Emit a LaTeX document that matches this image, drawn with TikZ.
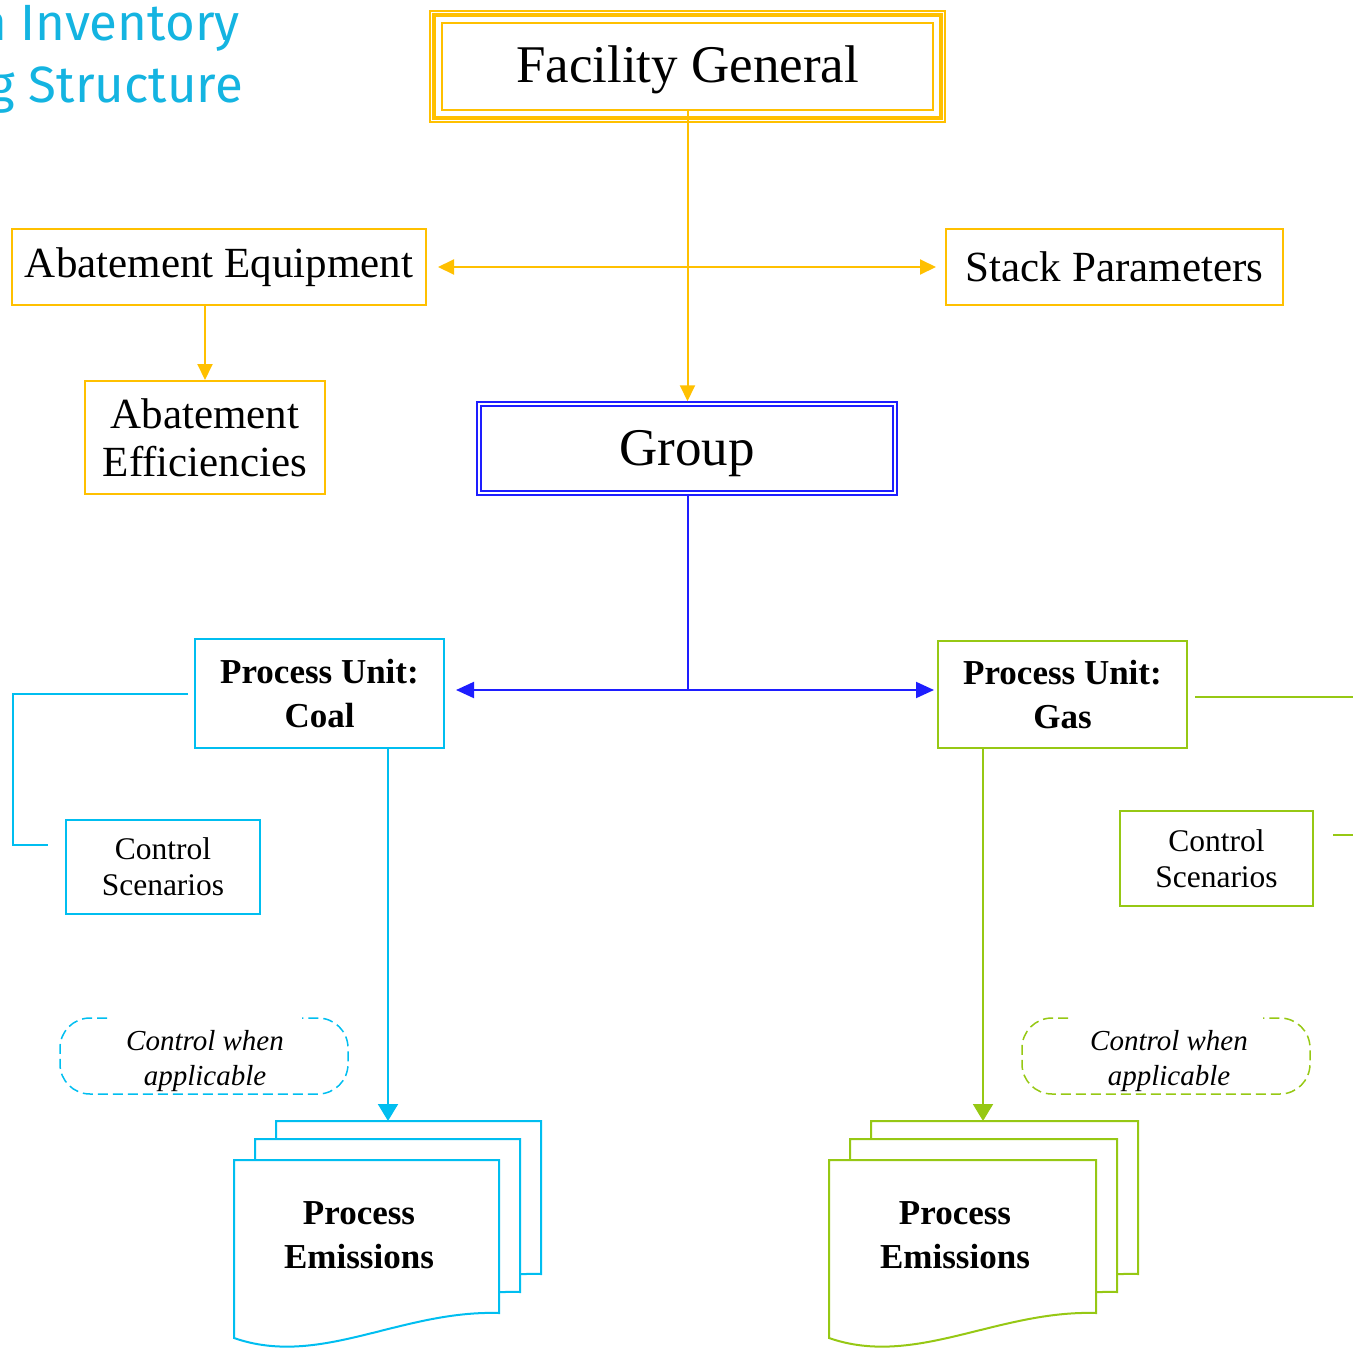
\documentclass[tikz,border=0pt]{standalone}
\usepackage{fontspec}
\setmainfont{Liberation Serif}
\newfontfamily\titlefont{Fira Sans}
\usetikzlibrary{arrows.meta}
\definecolor{gold}{RGB}{255,192,0}
\definecolor{grpblue}{RGB}{30,30,255}
\definecolor{coalcyan}{RGB}{0,190,240}
\definecolor{gasgreen}{RGB}{150,200,20}
\definecolor{titlecyan}{RGB}{20,180,225}
\begin{document}
\begin{tikzpicture}[x=1pt,y=-1pt,
  box/.style={draw=#1, line width=2pt, rectangle, inner sep=0pt, align=center},
  link/.style={draw=#1, line width=2pt},
  tipY/.style={-{Triangle[length=16pt,width=15pt]}},
  tipB/.style={-{Triangle[length=18pt,width=16pt]}},
  tipC/.style={-{Triangle[length=17pt,width=20pt]}},
  docpage/.style={draw=#1, line width=2pt, fill=white},
  notepath/.style={draw=#1, line width=1.5pt, dash pattern=on 10pt off 5pt, rounded corners=30pt},
  bigfont/.style={font=\fontsize{53}{58}\selectfont},
  midfont/.style={font=\fontsize{43}{48}\selectfont},
  unitfont/.style={font=\bfseries\fontsize{35}{44}\selectfont},
  smallfont/.style={font=\fontsize{31.5}{36}\selectfont},
  notefont/.style={font=\itshape\fontsize{29}{35}\selectfont},
]
\useasboundingbox (0,0) rectangle (1353,1349);

% heading, partly cut off at the left edge
\node[anchor=base east, inner sep=0pt, text=titlecyan,
      font=\titlefont\fontsize{51}{51}\selectfont] (head1) at (240,40) {n Inventory};
\node[anchor=base east, inner sep=0pt, text=titlecyan,
      font=\titlefont\fontsize{51}{51}\selectfont] (head2) at (243,102) {g Structure};

% top level: facility (triple gold frame)
\node[box=gold, bigfont, text height=43pt, text depth=12pt,
      minimum width=491pt, minimum height=87pt] (fac) at (687.5,66.5) {Facility General};
\draw[gold, line width=3.5pt] ([shift={(-7,-7)}]fac.north west) rectangle ([shift={(7,7)}]fac.south east);
\draw[gold, line width=1.5pt] ([shift={(-11,-11)}]fac.north west) rectangle ([shift={(11,11)}]fac.south east);

% second row
\node[box=gold, midfont, minimum width=414pt, minimum height=76pt] (abe) at (219,267) {Abatement Equipment};
\node[box=gold, midfont, minimum width=337pt, minimum height=76pt] (stk) at (1114.5,267) {Stack Parameters};
\node[box=gold, midfont, minimum width=240pt, minimum height=113pt] (eff) at (205,437.5) {Abatement\\Efficiencies};

% group (double blue frame)
\node[draw=grpblue, line width=1.5pt, double, double distance=2.5pt, inner sep=0pt,
      bigfont, text height=46pt, text depth=12pt,
      minimum width=416pt, minimum height=89pt] (grp) at (687,448.5) {Group};

% process units
\node[box=coalcyan, unitfont, minimum width=249pt, minimum height=109pt] (coal) at (319.5,693.5) {Process Unit:\\Coal};
\node[box=gasgreen, unitfont, minimum width=249pt, minimum height=107pt] (gas) at (1062.5,694.5) {Process Unit:\\Gas};

% control scenarios
\node[box=coalcyan, smallfont, minimum width=194pt, minimum height=94pt] (csc) at (163,867) {Control\\Scenarios};
\node[box=gasgreen, smallfont, minimum width=193pt, minimum height=95pt] (csg) at (1216.5,858.5) {Control\\Scenarios};

% gold connectors
\coordinate (yj) at (687,267);
\draw[link=gold, tipY, shorten >=2pt] (fac.south) -- (fac.south |- grp.north);
\draw[link=gold, tipY, shorten >=11pt] (yj) -- (abe.east |- yj);
\draw[link=gold, tipY, shorten >=9pt] (yj) -- (stk.west |- yj);
\draw[link=gold, tipY] (eff.north |- abe.south) -- (eff.north);

% blue connectors
\coordinate (bj) at (688,690);
\draw[link=grpblue] (grp.south -| bj) -- (bj);
\draw[link=grpblue, tipB, shorten >=11pt] (bj) -- (coal.east |- bj);
\draw[link=grpblue, tipB, shorten >=3pt] (bj) -- (gas.west |- bj);

% coal side: link to control scenarios
\coordinate (cc1) at (188,694);
\coordinate (cc2) at (13,694);
\coordinate (cc3) at (13,845);
\coordinate (cc4) at (48,845);
\draw[link=coalcyan] (cc1) -- (cc2) -- (cc3) -- (cc4);

% gas side: links running off to the right
\coordinate (gc1) at (1195,697);
\coordinate (gc2) at (1353,697);
\coordinate (gc3) at (1333,835);
\coordinate (gc4) at (1353,835);
\draw[link=gasgreen] (gc1) -- (gc2);
\draw[link=gasgreen] (gc3) -- (gc4);

% dashed notes
\draw[notepath=coalcyan]
  (107,1018) -- (60,1018) -- (60,1094) -- (348,1094) -- (348,1018) -- (302,1018);
\node[notefont, align=center, inner sep=0pt] (notec) at (205,1061) {Control when\\applicable};
\draw[notepath=gasgreen]
  (1068,1018) -- (1022,1018) -- (1022,1094) -- (1310,1094) -- (1310,1018) -- (1263,1018);
\node[notefont, align=center, inner sep=0pt] (noteg) at (1169,1061) {Control when\\applicable};

% stacked emission documents
\foreach \dx/\dy in {42/-39, 21/-21, 0/0} {
  \draw[docpage=coalcyan, shift={(234+\dx,1160+\dy)}]
    (0,178) -- (0,0) -- (265,0) -- (265,153) .. controls (166,150) and (86,208) .. (0,178) -- cycle;
  \draw[docpage=gasgreen, shift={(829+\dx,1160+\dy)}]
    (0,178) -- (0,0) -- (267,0) -- (267,153) .. controls (168,150) and (86,208) .. (0,178) -- cycle;
}
\node[unitfont, align=center, inner sep=0pt] (pec) at (359,1235) {Process\\Emissions};
\node[unitfont, align=center, inner sep=0pt] (peg) at (955,1235) {Process\\Emissions};

\coordinate (pect) at (388,1121);
\coordinate (pegt) at (983,1121);
\draw[link=coalcyan, tipC] (coal.south -| pect) -- (pect);
\draw[link=gasgreen, tipC] (gas.south -| pegt) -- (pegt);
\end{tikzpicture}
\end{document}
